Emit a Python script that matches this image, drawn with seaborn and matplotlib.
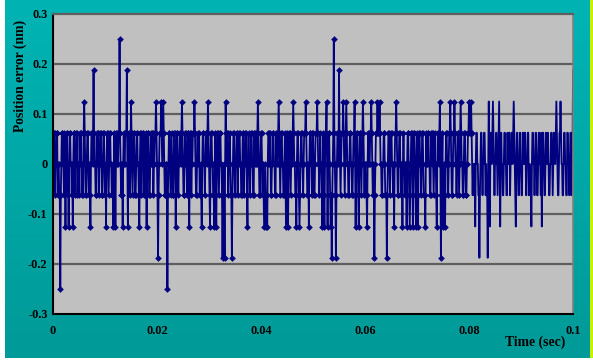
import numpy as np
import pandas as pd
import matplotlib
matplotlib.use("Agg")
import matplotlib.pyplot as plt
import matplotlib.colors as mcolors
import seaborn as sns

# Position error samples (1001 samples over 0.1 s), one digit per sample:
# digit - 4 = error in units of 1/16 nm
code_rows = [
    "4455344553" "4433034554" "4354245534" "2455443424" "5534455344",
    "3545534435" "6543345543" "4324554575" "4433545534" "4554334554",
    "3424554345" "5443342454" "2455445585" "4334245445" "5574245534",
    "6543455433" "4554432455" "3445533454" "2455433454" "4553445565",
    "4313455565" "4565433443" "0345543454" "3345542455" "4344554565",
    "4334554435" "5424553445" "5565433454" "4533432455" "4434554565",
    "4324554433" "2453245543" "4554431343" "1465455344" "5433134554",
    "3445534455" "4433455344" "5543245443" "4554433545" "5445654334",
    "5543432343" "2324554453" "3445544335" "5445654345" "5443345424",
    "5324554345" "4565443324" "5543234554" "4345556543" "3424554435",
    "5433455565" "4434544324" "5324556424" "5543231345" "8543134554",
    "7543455565" "4345654433" "4554433455" "6424554324" "5543456543",
    "4433245544" "5565434313" "4555655565" "4433445543" "3313455434",
    "5544342455" "6543345544" "3424544334" "2455432345" "5424554324",
    "5324554434" "5543332454" "4554433545" "5434544324" "5545641345",
    "2433245544" "3455654334" "5565443455" "4345654433" "4554334455",
    "6555654344" "3424554433" "1345543445" "5434331464" "2455456543",
    "4455434564" "2454433455" "4433544553" "4455456543" "2455433454",
    "4335544554" "3445534433" "2455443455" "4334554435" "2455433454",
    "4554334455" "4345544565" "4334556544" "3345544335" "5443455344",
    "7",
]
step_nm = 0.0625
t_end = 0.1
x_ticks = [0, 0.02, 0.04, 0.06, 0.08, 0.1]
x_tick_labels = ["0", "0.02", "0.04", "0.06", "0.08", "0.1"]
y_ticks = [-0.3, -0.2, -0.1, 0, 0.1, 0.2, 0.3]
y_tick_labels = ["-0.3", "-0.2", "-0.1", "0", "0.1", "0.2", "0.3"]

codes = "".join(code_rows)
err = [(int(c) - 4) * step_nm for c in codes]
n = len(err)
t = np.linspace(0, t_end, n)
df = pd.DataFrame({"time": t, "err": err})

sns.set_style("white")
plt.rcParams["font.family"] = ["Liberation Serif", "DejaVu Serif"]
plt.rcParams["axes.unicode_minus"] = False
plt.rcParams["text.color"] = "black"
plt.rcParams["axes.labelcolor"] = "black"

W, H = 593, 360
fig = plt.figure(figsize=(W / 100, H / 100), dpi=100, facecolor="white")

# teal background panel with a vertical gradient
bg = fig.add_axes([5 / W, 2 / H, 585 / W, 358 / H], zorder=-10)
cmap = mcolors.LinearSegmentedColormap.from_list("teal", ["#009a98", "#00b4b4"])
grad = np.linspace(0, 1, 256).reshape(-1, 1)
bg.imshow(grad, aspect="auto", cmap=cmap, origin="lower", extent=[0, 1, 0, 1])
bg.set_axis_off()
strip = fig.add_axes([590 / W, 2 / H, 3 / W, 358 / H], zorder=-10)
strip.set_facecolor("#c8f000")
strip.set_xticks([]); strip.set_yticks([])
for s in strip.spines.values():
    s.set_visible(False)

ax = fig.add_axes([53 / W, 46 / H, 520 / W, 300 / H])
ax.set_facecolor("#c0c0c0")

sns.lineplot(data=df, x="time", y="err", ax=ax, color="#000080", linewidth=1.3,
             estimator=None, sort=False, marker="D", markersize=3.4,
             markeredgewidth=0, markevery=slice(0, 806))

ax.set_xlim(0, t_end)
ax.set_ylim(-0.3, 0.3)
ax.set_xticks(x_ticks)
ax.set_xticklabels(x_tick_labels)
ax.set_yticks(y_ticks)
ax.set_yticklabels(y_tick_labels)
for y in [-0.2, -0.1, 0.1, 0.2]:
    ax.axhline(y, color="#5f5f5f", linewidth=1.6, zorder=0.5)

ax.tick_params(axis="x", direction="in", length=3, width=1, pad=8, labelsize=8.8,
               colors="black", labelcolor="black")
ax.tick_params(axis="y", direction="out", length=3, width=1, pad=1, labelsize=8.8,
               colors="black", labelcolor="black")
for lab in ax.get_xticklabels() + ax.get_yticklabels():
    lab.set_fontweight("bold")

ax.spines["left"].set_color("black")
ax.spines["bottom"].set_color("black")
ax.spines["left"].set_linewidth(1.5)
ax.spines["bottom"].set_linewidth(1.5)
ax.spines["top"].set_color("#5f5f5f")
ax.spines["top"].set_linewidth(1.6)
ax.spines["right"].set_color("#808080")
ax.spines["right"].set_linewidth(1.2)

ax.set_xlabel("Time (sec)", fontsize=9.8, fontweight="bold", loc="right", color="black")
ax.xaxis.set_label_coords((565 - 53) / 520, (314 - 342) / 300)
ax.xaxis.label.set_va("center")
ax.set_ylabel("Position error (nm)", fontsize=9.8, fontweight="bold", color="black")
ax.yaxis.set_label_coords((20 - 53) / 520, (314 - 76) / 300)
ax.yaxis.label.set_va("center")

fig.savefig("out.png", dpi=100, facecolor="white")
